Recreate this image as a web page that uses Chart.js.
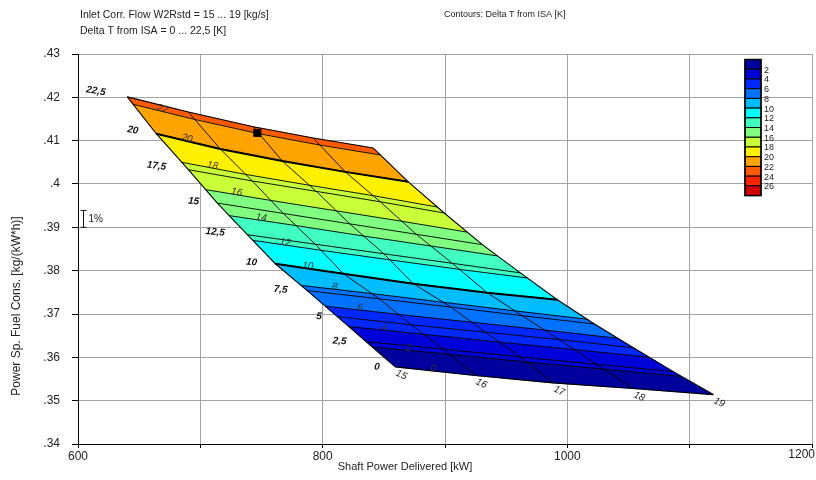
<!DOCTYPE html>
<html>
<head>
<meta charset="utf-8">
<script src="https://cdn.jsdelivr.net/npm/chart.js@4/dist/chart.umd.min.js"></script>
<style>
html,body{margin:0;padding:0;background:#fff;}
#wrap{width:816px;height:480px;position:relative;}
</style>
</head>
<body>
<div id="wrap"><canvas id="c" width="816" height="480"></canvas></div>
<script>
const FONT = "'Liberation Sans', Arial, sans-serif";

// ---- texts ----
const headerLines = ['Inlet Corr. Flow W2Rstd = 15 ... 19 [kg/s]', 'Delta T from ISA = 0 ... 22,5 [K]'];
const contourTitle = 'Contours: Delta T from ISA [K]';
const xTitle = 'Shaft Power Delivered [kW]';
const yTitle = 'Power Sp. Fuel Cons. [kg/(kW*h)]';

// ---- carpet parameters ----
const flowLabels = ['15', '16', '17', '18', '19'];            // W2Rstd [kg/s]
const deltaTLabels = ['0', '2,5', '5', '7,5', '10', '12,5', '15', '17,5', '20', '22,5']; // Delta T [K]

// carpet grid nodes: shaft power [kW] / PSFC [kg/(kW*h)] along each flow line, dT = 0 ... 22.5
const powerW15 = [859.4, 835.7, 812.0, 787.4, 761.3, 738.4, 713.9, 690.2, 664.0, 640.3];
const sfcW15   = [0.3578, 0.3636, 0.3694, 0.3754, 0.3816, 0.3883, 0.3956, 0.4033, 0.4116, 0.4201];
const powerW16 = [924.8, 898.6, 872.5, 846.3, 816.9, 794.0, 767.8, 742.5, 716.3, 690.2];
const sfcW16   = [0.3558, 0.3619, 0.3675, 0.3735, 0.3793, 0.3861, 0.3932, 0.4007, 0.4081, 0.4166];
const powerW17 = [988.5, 961.2, 933.0, 904.8, 874.1, 850.0, 822.2, 794.8, 767.0, 743.3];
const sfcW17   = [0.3541, 0.3601, 0.3658, 0.3716, 0.3770, 0.3839, 0.3908, 0.3983, 0.4053, 0.4132];
const powerW18 = [1053.9, 1023.7, 993.4, 963.2, 934.6, 906.0, 876.5, 847.1, 818.5, 792.3];
const sfcW18   = [0.3528, 0.3584, 0.3641, 0.3696, 0.3749, 0.3817, 0.3884, 0.3959, 0.4028, 0.4106];
const powerW19 = [1119.3, 1086.6, 1053.9, 1022.1, 991.8, 961.6, 930.5, 899.4, 870.0, 841.4];
const sfcW19   = [0.3514, 0.3567, 0.3622, 0.3677, 0.3733, 0.3795, 0.3860, 0.3933, 0.4005, 0.4083];

// contour lines of Delta T (band boundaries), points on flow lines 15 ... 19
const contourLevels = [0, 2, 4, 6, 8, 10, 12, 14, 16, 18, 20, 22, 22.5];
const contourLabels = ['0', '2', '4', '6', '8', '10', '12', '14', '16', '18', '20', '22'];
const contourPower = [
  [859.4, 924.8, 988.5, 1053.9, 1119.3],
  [840.4, 903.8, 966.7, 1029.7, 1093.1],
  [821.5, 882.9, 944.3, 1005.5, 1067.0],
  [802.2, 862.0, 921.7, 981.3, 1041.2],
  [782.2, 840.4, 898.7, 957.5, 1016.0],
  [761.3, 816.9, 874.1, 934.6, 991.8],
  [743.0, 798.6, 854.8, 911.7, 967.6],
  [723.7, 778.3, 833.3, 888.3, 942.9],
  [704.4, 757.7, 811.2, 864.7, 918.1],
  [685.0, 737.3, 789.2, 841.4, 893.5],
  [664.0, 716.3, 767.0, 818.5, 870.0],
  [645.0, 695.4, 748.0, 797.5, 847.1],
  [640.3, 690.2, 743.3, 792.3, 841.4]
];
const contourSfc = [
  [0.3578, 0.3558, 0.3541, 0.3528, 0.3514],
  [0.3624, 0.3607, 0.3589, 0.3573, 0.3556],
  [0.3671, 0.3653, 0.3635, 0.3618, 0.3600],
  [0.3718, 0.3699, 0.3681, 0.3663, 0.3644],
  [0.3766, 0.3747, 0.3727, 0.3707, 0.3688],
  [0.3816, 0.3793, 0.3770, 0.3749, 0.3733],
  [0.3870, 0.3847, 0.3825, 0.3803, 0.3783],
  [0.3927, 0.3904, 0.3880, 0.3857, 0.3834],
  [0.3987, 0.3962, 0.3938, 0.3914, 0.3889],
  [0.4050, 0.4022, 0.3997, 0.3973, 0.3947],
  [0.4116, 0.4081, 0.4053, 0.4028, 0.4005],
  [0.4184, 0.4149, 0.4116, 0.4090, 0.4067],
  [0.4201, 0.4166, 0.4132, 0.4106, 0.4083]
];

// colour scale (bands 0-2, 2-4, ... 26-28) and its labels
const bandColors = ['#00009c', '#0000d8', '#0028ff', '#0072ff', '#00bdff', '#00ffff', '#40ffc0',
                    '#80ff80', '#c8ff38', '#fff000', '#ffa300', '#ff5a00', '#ff2400', '#d00000'];
const legendLabels = ['2', '4', '6', '8', '10', '12', '14', '16', '18', '20', '22', '24', '26'];

// design point
const designPower = [746.6];
const designSfc = [0.4118];

// axes
const xMin = 600, xMax = 1200, xStep = 100, xLabelStep = 200;
const yMin = 0.34, yMax = 0.43, yStep = 0.01;
const onePctBase = 0.39;

// ---- build datasets ----
const gridPower = [powerW15, powerW16, powerW17, powerW18, powerW19];
const gridSfc = [sfcW15, sfcW16, sfcW17, sfcW18, sfcW19];
const pts = (xs, ys) => xs.map((v, i) => ({x: v, y: ys[i]}));

const datasets = [];
// design point (top)
datasets.push({
  data: pts(designPower, designSfc), showLine: false, pointStyle: 'rect',
  pointRadius: 5, pointBackgroundColor: '#000', pointBorderColor: '#000', order: 0
});
// flow lines (W = const)
gridPower.forEach((xs, j) => {
  datasets.push({data: pts(xs, gridSfc[j]), borderColor: '#000',
    borderWidth: (j === 0 || j === gridPower.length - 1) ? 1.1 : 0.9, fill: false, order: 1});
});
// Delta T grid lines
deltaTLabels.forEach((lab, k) => {
  const xs = gridPower.map(a => a[k]);
  const ys = gridSfc.map(a => a[k]);
  const thick = (lab === '10' || lab === '20');
  datasets.push({data: pts(xs, ys), borderColor: '#000',
    borderWidth: thick ? 2 : ((k === 0 || k === deltaTLabels.length - 1) ? 1.1 : 0.9), fill: false, order: 1});
});
// contour lines
for (let b = 1; b < contourLevels.length - 1; b++) {
  datasets.push({data: pts(contourPower[b], contourSfc[b]), borderColor: '#000',
    borderWidth: 0.9, fill: false, order: 2});
}
// filled bands
for (let b = 0; b < contourLevels.length - 1; b++) {
  const lower = pts(contourPower[b], contourSfc[b]);
  const upper = pts(contourPower[b + 1], contourSfc[b + 1]).reverse();
  datasets.push({data: [...lower, ...upper, lower[0]], fill: 'shape',
    backgroundColor: bandColors[b], borderColor: bandColors[b], borderWidth: 0.6, order: 3});
}

// ---- overlay plugin ----
const overlay = {
  id: 'overlay',
  afterDatasetsDraw(chart) {
    const {ctx, scales: {x, y}} = chart;
    const P = (a, b) => [x.getPixelForValue(a), y.getPixelForValue(b)];
    ctx.save();
    // contour labels
    ctx.font = `italic 10px ${FONT}`;
    ctx.fillStyle = '#333';
    ctx.textAlign = 'center';
    ctx.textBaseline = 'middle';
    contourLabels.forEach((lab, b) => {
      const [x0, y0] = P(contourPower[b][0], contourSfc[b][0]);
      const [x1, y1] = P(contourPower[b][1], contourSfc[b][1]);
      const a = Math.atan2(y1 - y0, x1 - x0);
      const t = 0.47;
      ctx.save();
      ctx.translate(x0 + (x1 - x0) * t, y0 + (y1 - y0) * t);
      ctx.rotate(a);
      ctx.fillText(lab, 0, -2.5);
      ctx.restore();
    });
    // Delta T labels on left edge
    ctx.font = `italic bold 10px ${FONT}`;
    ctx.fillStyle = '#111';
    deltaTLabels.forEach((lab, k) => {
      const [nx, ny] = P(gridPower[0][k], gridSfc[0][k]);
      const [mx, my] = P(gridPower[1][k], gridSfc[1][k]);
      const a = Math.atan2(my - ny, mx - nx);
      const w = ctx.measureText(lab).width;
      const d = 13 + w;
      ctx.save();
      ctx.translate(nx - d * Math.cos(a), ny - d * Math.sin(a) + 2);
      ctx.rotate(a * 0.7);
      ctx.fillText(lab, 0, 0);
      ctx.restore();
    });
    // flow labels at bottom edge
    ctx.font = `italic 10px ${FONT}`;
    ctx.fillStyle = '#222';
    flowLabels.forEach((lab, j) => {
      const [nx, ny] = P(gridPower[j][0], gridSfc[j][0]);
      ctx.save();
      ctx.translate(nx + 6, ny + 8);
      ctx.rotate(25 * Math.PI / 180);
      ctx.fillText(lab, 0, 0);
      ctx.restore();
    });
    ctx.restore();
  },
  afterDraw(chart) {
    const {ctx, scales: {x, y}, chartArea, width} = chart;
    ctx.save();
    ctx.fillStyle = '#222';
    ctx.textBaseline = 'middle';
    ctx.textAlign = 'left';
    ctx.font = `10.5px ${FONT}`;
    ctx.fillText(headerLines[0], 80, 15);
    ctx.fillText(headerLines[1], 80, 31);
    ctx.font = `9px ${FONT}`;
    ctx.fillText(contourTitle, 444, 15);
    // last x tick label, kept inside the canvas
    ctx.font = `12px ${FONT}`;
    ctx.textAlign = 'right';
    ctx.textBaseline = 'top';
    ctx.fillText(String(xMax), Math.min(x.getPixelForValue(xMax) + 14, width - 1), chartArea.bottom + 5);
    // axis titles
    ctx.textBaseline = 'middle';
    ctx.textAlign = 'center';
    ctx.font = `11px ${FONT}`;
    ctx.fillText(xTitle, 405, 467);
    ctx.save();
    ctx.translate(17, 306);
    ctx.rotate(-Math.PI / 2);
    ctx.font = `12px ${FONT}`;
    ctx.fillText(yTitle, 0, 0);
    ctx.restore();
    // 1% bar
    const bx = Math.round(chartArea.left + 5) + 0.5;
    const yb = y.getPixelForValue(onePctBase);
    const yt = y.getPixelForValue(onePctBase * 1.01);
    ctx.strokeStyle = '#111';
    ctx.lineWidth = 1;
    ctx.beginPath();
    ctx.moveTo(bx, yb); ctx.lineTo(bx, yt);
    ctx.moveTo(bx - 3, yb); ctx.lineTo(bx + 3, yb);
    ctx.moveTo(bx - 3, yt); ctx.lineTo(bx + 3, yt);
    ctx.stroke();
    ctx.textAlign = 'left';
    ctx.font = `10px ${FONT}`;
    ctx.fillText('1%', bx + 5, (yb + yt) / 2);
    // colour legend
    const lx = 745, ly = 59.5, lw = 16, lh = 9.72;
    bandColors.forEach((c, i) => {
      ctx.fillStyle = c;
      ctx.fillRect(lx, ly + i * lh, lw, lh);
      ctx.strokeStyle = '#000';
      ctx.lineWidth = 1;
      ctx.strokeRect(lx, ly + i * lh, lw, lh);
    });
    ctx.lineWidth = 1.5;
    ctx.strokeRect(lx, ly, lw, lh * bandColors.length);
    ctx.fillStyle = '#222';
    ctx.font = `9px ${FONT}`;
    legendLabels.forEach((lab, i) => {
      ctx.fillText(lab, lx + lw + 3, ly + (i + 1) * lh + 1);
    });
    ctx.restore();
  }
};

const fmtY = v => {
  let s = (Math.round(v * 100) / 100).toFixed(2).replace(/^0/, '');
  if (s.endsWith('0')) s = s.slice(0, -1);
  return s;
};

new Chart(document.getElementById('c'), {
  type: 'line',
  data: {datasets},
  options: {
    responsive: false,
    animation: false,
    devicePixelRatio: 1,
    layout: {padding: {top: 54, right: 4, left: 0, bottom: 0}, autoPadding: false},
    elements: {point: {radius: 0, hoverRadius: 0}, line: {tension: 0}},
    plugins: {legend: {display: false}, tooltip: {enabled: false}, filler: {propagate: false}},
    events: [],
    scales: {
      x: {
        type: 'linear', min: xMin, max: xMax,
        afterFit(s) { s.height = 36; s.paddingRight = 0; },
        ticks: {stepSize: xStep, autoSkip: false, maxRotation: 0, padding: 1, color: '#222',
          font: {family: FONT, size: 12},
          callback: v => {
            const r = Math.round(v);
            return (r % xLabelStep === 0 && r !== xMax) ? String(r) : '';
          }},
        grid: {color: '#a3a3a3', lineWidth: 1, tickLength: 4, tickColor: '#000'},
        border: {color: '#000', width: 1}
      },
      y: {
        type: 'linear', min: yMin, max: yMax,
        afterFit(s) { s.width = 78; },
        ticks: {stepSize: yStep, autoSkip: false, padding: 12, color: '#222',
          font: {family: FONT, size: 12}, callback: v => fmtY(v)},
        grid: {color: '#a3a3a3', lineWidth: 1, tickLength: 6, tickColor: '#000'},
        border: {color: '#000', width: 1}
      }
    }
  },
  plugins: [overlay]
});
</script>
</body>
</html>
